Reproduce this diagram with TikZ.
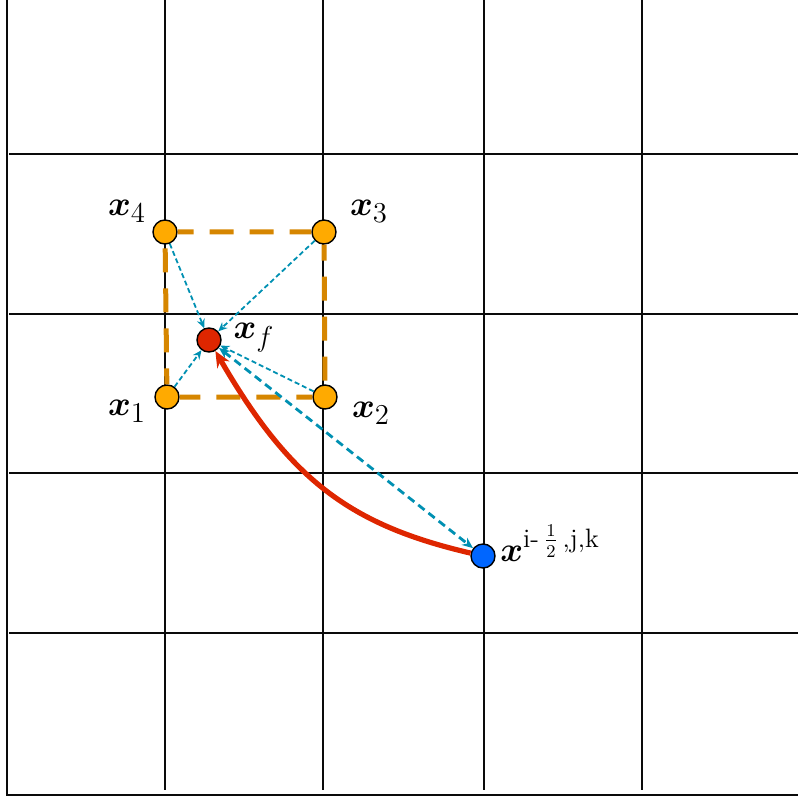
\documentclass[tikz,border=0pt]{standalone}
\usepackage{amsmath}
\usepackage{amssymb}
\usepackage{bm}
\usetikzlibrary{arrows.meta, positioning, calc}
\definecolor{gridblack}{RGB}{10, 10, 10}
\definecolor{cornerorange}{RGB}{255, 170, 0}
\definecolor{boxorange}{RGB}{214, 134, 0}
\definecolor{targetred}{RGB}{222, 38, 0}
\definecolor{faceblue}{RGB}{0, 102, 255}
\definecolor{interpteal}{RGB}{0, 144, 178}

\begin{document}
\begin{tikzpicture}[
        x=0.5pt, y=-0.5pt,
        gridline/.style={line width=1pt, gridblack},
        pnt/.style={circle, draw=black, line width=0.7pt, minimum size=12pt, inner sep=0pt},
        corner/.style={pnt, fill=cornerorange},
        lbl/.style={font=\fontsize{19}{22}\selectfont, inner sep=0pt},
        cell/.style={dash pattern=on 12pt off 8pt, dash phase=4pt, line width=2.5pt, boxorange},
        weight/.style={-{Stealth[length=4.5pt, width=4pt]}, line width=0.9pt, interpteal,
                       dash pattern=on 2.5pt off 1.5pt},
        link/.style={{Stealth[length=5.5pt, width=4.5pt]}-{Stealth[length=5.5pt, width=4.5pt]},
                     line width=1.4pt, interpteal, dash pattern=on 4pt off 2.5pt},
        move/.style={-{Stealth[length=8pt, width=7pt]}, line width=2.6pt, targetred}
      ]
        \useasboundingbox (0,0) rectangle (798,801);

        % grid
        \draw[gridline] (7,0) -- (7,795) -- (798,795);
        \foreach \gx in {165, 323, 484, 642}
          \draw[gridline] (\gx,0) -- (\gx,790);
        \foreach \gy in {154, 314, 473, 633}
          \draw[gridline] (9,\gy) -- (798,\gy);

        % points
        \node[corner] (x4) at (165,232) {};
        \node[corner] (x3) at (324,232) {};
        \node[corner] (x1) at (167,397) {};
        \node[corner] (x2) at (325,397) {};
        \node[pnt, fill=targetred] (xf) at (209,340) {};
        \node[pnt, fill=faceblue]  (xb) at (483,556) {};

        \node[lbl] (l4) at (127,211) {$\bm{x}_4$};
        \node[lbl] (l3) at (369,211) {$\bm{x}_3$};
        \node[lbl] (l1) at (127,411) {$\bm{x}_1$};
        \node[lbl] (l2) at (371,413) {$\bm{x}_2$};
        \node[lbl] (lf) at (254,338) {$\bm{x}_f$};
        \node[lbl, anchor=west] (lb) at (500,543) {$\bm{x}^{\text{i-}\,\frac{1}{2}\,\text{,j,k}}$};

        % interpolation cell
        \draw[cell] (x4) -- (x3) -- (x2) -- (x1) -- (x4);

        \draw[weight] (x4) -- (xf);
        \draw[weight] (x3) -- (xf);
        \draw[weight] (x1) -- (xf);
        \draw[weight] (x2) -- (xf);
        \draw[link] (xf) -- (xb);

        \draw[move] (xb) .. controls (350,525) and (290,480) .. (xf);
      \end{tikzpicture}
\end{document}
